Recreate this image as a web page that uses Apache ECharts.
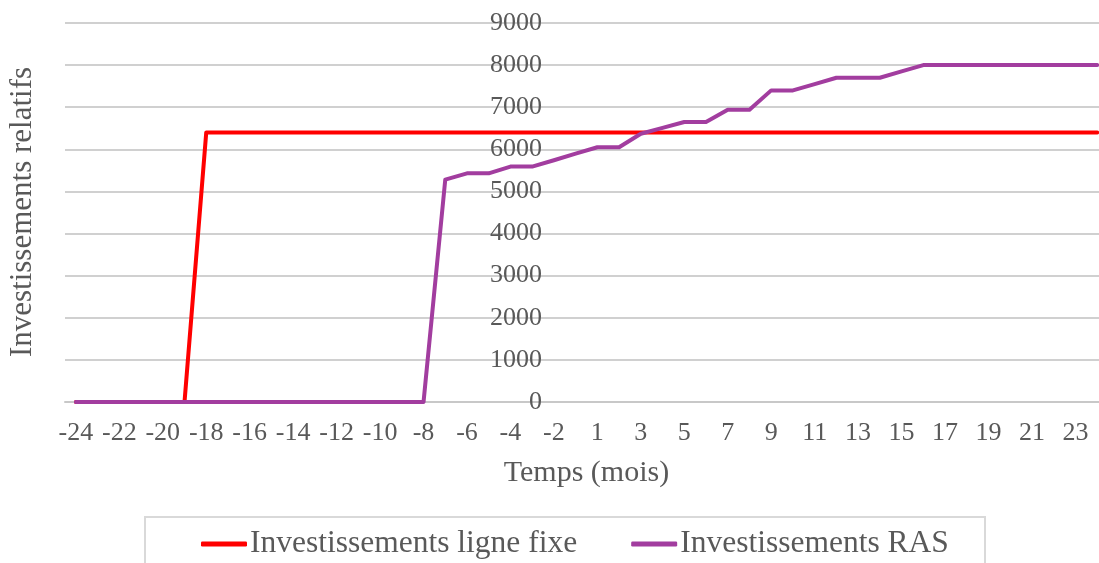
<!DOCTYPE html>
<html>
<head>
<meta charset="utf-8">
<title>Investissements relatifs</title>
<script src="https://cdn.jsdelivr.net/npm/echarts@6/dist/echarts.min.js"></script>
<style>
  html, body { margin: 0; padding: 0; background: #ffffff; }
  #chart { width: 1099px; height: 563px; }
</style>
</head>
<body>
<div id="chart"></div>
<script>
// Mois relatifs (pas de mois 0)
const mois = [
  '-24','-23','-22','-21','-20','-19','-18','-17','-16','-15','-14','-13',
  '-12','-11','-10','-9','-8','-7','-6','-5','-4','-3','-2','-1',
  '1','2','3','4','5','6','7','8','9','10','11','12',
  '13','14','15','16','17','18','19','20','21','22','23','24'
];

// Investissements ligne fixe
const ligneFixe = [
  0, 0, 0, 0, 0, 0, 6400, 6400, 6400, 6400, 6400, 6400,
  6400, 6400, 6400, 6400, 6400, 6400, 6400, 6400, 6400, 6400, 6400, 6400,
  6400, 6400, 6400, 6400, 6400, 6400, 6400, 6400, 6400, 6400, 6400, 6400,
  6400, 6400, 6400, 6400, 6400, 6400, 6400, 6400, 6400, 6400, 6400, 6400
];

// Investissements RAS
const ras = [
  0, 0, 0, 0, 0, 0, 0, 0, 0, 0, 0, 0,
  0, 0, 0, 0, 0, 5280, 5430, 5430, 5590, 5590, 5740, 5900,
  6050, 6050, 6370, 6510, 6650, 6650, 6940, 6940, 7400, 7400, 7550, 7700,
  7700, 7700, 7850, 8000, 8000, 8000, 8000, 8000, 8000, 8000, 8000, 8000
];

const yTicks = { min: 0, max: 9000, interval: 1000 };

const serif = '"Liberation Serif", "Times New Roman", serif';
const grey = '#595959';

const chart = echarts.init(document.getElementById('chart'), null, { renderer: 'canvas' });

chart.setOption({
  animation: false,
  backgroundColor: '#ffffff',
  // la zone de tracé dépasse légèrement le bord droit
  grid: { left: 65, width: 1043, top: 23, height: 379, containLabel: false, outerBoundsMode: 'none' },
  xAxis: {
    type: 'category',
    data: mois,
    boundaryGap: true,
    name: 'Temps (mois)',
    nameLocation: 'middle',
    nameGap: 56,
    nameTextStyle: { fontFamily: serif, fontSize: 30, color: grey },
    axisLine: { show: true, lineStyle: { color: '#c8c8c8', width: 2 } },
    axisTick: { show: false },
    axisLabel: { interval: 1, margin: 18, fontFamily: serif, fontSize: 26, color: grey }
  },
  yAxis: {
    type: 'value',
    position: 'left',
    offset: -485,
    min: yTicks.min,
    max: yTicks.max,
    interval: yTicks.interval,
    axisLine: { show: false },
    axisTick: { show: false },
    axisLabel: {
      margin: 8,
      fontFamily: serif,
      fontSize: 26,
      color: grey,
      formatter: function (v) { return String(v); }
    },
    splitLine: { show: true, lineStyle: { color: '#d0d0d0', width: 2 } }
  },
  legend: {
    left: 201,
    top: 528,
    padding: 0,
    itemGap: 54,
    itemWidth: 46,
    itemHeight: 5,
    icon: 'roundRect',
    textStyle: { fontFamily: serif, fontSize: 31.5, color: grey, padding: [0, 0, 0, -2] },
    data: ['Investissements ligne fixe', 'Investissements RAS']
  },
  graphic: [
    {
      type: 'rect',
      silent: true,
      shape: { x: 145, y: 517, width: 840, height: 70 },
      style: { fill: 'none', stroke: '#d9d9d9', lineWidth: 2 }
    },
    {
      type: 'text',
      silent: true,
      x: 23,
      y: 212,
      rotation: Math.PI / 2,
      style: {
        text: 'Investissements relatifs',
        fontFamily: serif,
        fontSize: 31,
        fill: grey,
        align: 'center',
        verticalAlign: 'middle'
      }
    }
  ],
  series: [
    {
      name: 'Investissements ligne fixe',
      type: 'line',
      data: ligneFixe,
      symbol: 'none',
      smooth: false,
      itemStyle: { color: '#ff0000' },
      lineStyle: { color: '#ff0000', width: 4, join: 'round', cap: 'round' },
      z: 2
    },
    {
      name: 'Investissements RAS',
      type: 'line',
      data: ras,
      symbol: 'none',
      smooth: false,
      itemStyle: { color: '#a23d9f' },
      lineStyle: { color: '#a23d9f', width: 4, join: 'round', cap: 'round' },
      z: 3
    }
  ]
});
</script>
</body>
</html>
